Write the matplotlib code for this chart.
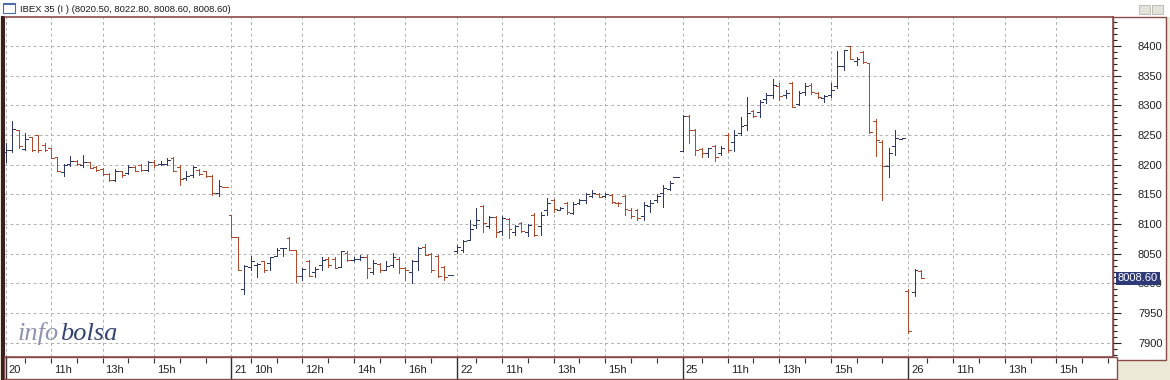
import matplotlib
matplotlib.use('Agg')
import matplotlib.pyplot as plt
import matplotlib.transforms as mtrans
from matplotlib.patches import Rectangle

plt.rcParams['font.family'] = ['Liberation Sans', 'DejaVu Sans']

# IBEX 35, 15 minute bars (open, high, low, close), days 20-21-22-25-26
day_labels = ['20', '21', '22', '25', '26']
bars_per_day = 35
tick_hours = [10, 11, 12, 13, 14, 15, 16, 17]
labelled_hours = [[11, 13, 15], [10, 12, 14, 16], [11, 13, 15], [11, 13, 15], [11, 13, 15]]

opens = [
    # 20
    8222, 8225, 8259, 8226, 8246, 8250, 8233, 8228, 8213, 8188, 8201, 8206, 8200, 8204, 8197, 8193, 8185, 8174,
    8189, 8186, 8197, 8200, 8191, 8205, 8201, 8201, 8211, 8197, 8177, 8183, 8191, 8189, 8181, 8153, 8163,
    # 21
    8115, 8079, 7990, 8028, 8031, 8037, 8034, 8046, 8059, 8076, 8057, 8012, 8038, 8020, 8031, 8041, 8041, 8028,
    8052, 8040, 8041, 8045, 8020, 8033, 8023, 8031, 8042, 8026, 8020, 8037, 8062, 8050, 8046, 8028, 8014,
    # 22
    8055, 8056, 8074, 8099, 8130, 8096, 8112, 8089, 8108, 8087, 8101, 8087, 8116, 8096, 8124, 8140, 8124, 8135,
    8119, 8136, 8140, 8148, 8150, 8148, 8149, 8136, 8148, 8124, 8124, 8113, 8130, 8141, 8152, 8159, 8179,
    # 25
    8224, 8282, 8258, 8226, 8219, 8232, 8219, 8250, 8239, 8253, 8267, 8290, 8289, 8310, 8318, 8333, 8318, 8337,
    8303, 8323, 8334, 8321, 8312, 8317, 8332, 8366, 8400, 8375, 8390, 8372, 8274, 8239, 8198, 8232, 8244,
    # 26
    7988, 7986, 8020.5,
]
highs = [
    8237, 8274, 8259, 8253, 8247, 8250, 8236, 8228, 8213, 8201, 8214, 8208, 8217, 8205, 8198, 8194, 8186, 8192,
    8190, 8200, 8198, 8202, 8207, 8208, 8206, 8211, 8213, 8200, 8189, 8198, 8192, 8190, 8183, 8174, 8163,
    8115, 8079, 8031, 8046, 8034, 8038, 8044, 8059, 8060, 8079, 8057, 8026, 8040, 8028, 8045, 8044, 8044, 8055,
    8054, 8044, 8048, 8048, 8039, 8035, 8037, 8051, 8045, 8028, 8039, 8062, 8067, 8051, 8048, 8030, 8015,
    8065, 8074, 8107, 8127, 8132, 8114, 8113, 8114, 8110, 8099, 8104, 8100, 8118, 8121, 8144, 8142, 8128, 8138,
    8138, 8142, 8153, 8157, 8152, 8152, 8151, 8138, 8149, 8127, 8125, 8138, 8140, 8151, 8166, 8173, 8180,
    8284, 8284, 8260, 8228, 8229, 8233, 8232, 8253, 8258, 8281, 8315, 8292, 8309, 8321, 8344, 8337, 8326, 8340,
    8325, 8338, 8337, 8323, 8318, 8338, 8391, 8394, 8400, 8381, 8391, 8372, 8277, 8241, 8229, 8259, 8245,
    7990, 8024, 8022.8,
]
lows = [
    8205, 8222, 8228, 8225, 8224, 8222, 8224, 8211, 8190, 8181, 8198, 8200, 8197, 8194, 8190, 8183, 8173, 8172,
    8180, 8185, 8189, 8190, 8189, 8197, 8200, 8200, 8189, 8166, 8174, 8180, 8183, 8179, 8149, 8147, 8162,
    8078, 8022, 7982, 8023, 8010, 8020, 8022, 8046, 8046, 8057, 8003, 8006, 8012, 8010, 8023, 8028, 8026, 8028,
    8037, 8037, 8040, 8009, 8016, 8020, 8023, 8028, 8017, 8006, 8000, 8023, 8048, 8020, 8010, 8006, 8014,
    8052, 8053, 8073, 8093, 8087, 8093, 8078, 8082, 8076, 8082, 8086, 8080, 8080, 8082, 8116, 8121, 8124, 8117,
    8117, 8134, 8135, 8145, 8145, 8146, 8136, 8130, 8116, 8110, 8107, 8107, 8121, 8138, 8128, 8158, 8179,
    8224, 8237, 8217, 8213, 8213, 8207, 8217, 8222, 8224, 8250, 8258, 8280, 8281, 8304, 8312, 8309, 8312, 8297,
    8301, 8318, 8320, 8312, 8306, 8315, 8329, 8359, 8378, 8368, 8372, 8254, 8214, 8140, 8179, 8217, 8244,
    7917, 7978, 8008.6,
]
closes = [
    8225, 8260, 8231, 8243, 8225, 8225, 8225, 8211, 8190, 8200, 8207, 8201, 8205, 8195, 8191, 8185, 8174, 8189,
    8183, 8197, 8190, 8191, 8205, 8200, 8202, 8208, 8190, 8176, 8181, 8197, 8185, 8181, 8152, 8164, 8162,
    8078, 8023, 8030, 8037, 8033, 8023, 8044, 8057, 8059, 8057, 8012, 8024, 8013, 8024, 8040, 8031, 8026, 8054,
    8039, 8042, 8044, 8026, 8034, 8023, 8030, 8045, 8026, 8022, 8037, 8059, 8048, 8022, 8012, 8010, 8015,
    8061, 8072, 8091, 8107, 8101, 8112, 8087, 8110, 8091, 8096, 8089, 8098, 8082, 8116, 8136, 8125, 8127, 8121,
    8134, 8141, 8151, 8153, 8146, 8150, 8138, 8135, 8125, 8114, 8110, 8132, 8136, 8148, 8160, 8170, 8180,
    8282, 8259, 8225, 8219, 8228, 8213, 8229, 8225, 8250, 8265, 8288, 8282, 8306, 8318, 8334, 8316, 8321, 8298,
    8321, 8333, 8323, 8314, 8316, 8326, 8366, 8394, 8378, 8379, 8374, 8256, 8241, 8198, 8220, 8245, 8245,
    7920, 8022, 8008.6,
]

UP = '#2d3868'
DOWN = '#b04a2c'
BORDER = '#8a4a4a'
GRID = '#b0b0b0'

W, H = 1170, 380
fig = plt.figure(figsize=(W / 100, H / 100), dpi=100, facecolor='#ece9d8')


def box(x0, y0, x1, y1):
    # pixel box, origin top-left -> figure fraction rect
    return [x0 / W, 1 - y1 / H, (x1 - x0) / W, (y1 - y0) / H]


def frame(x0, y0, x1, y1, fc='white', ec=BORDER, lw=1.0):
    fig.patches.append(Rectangle((x0 / W, 1 - y1 / H), (x1 - x0) / W, (y1 - y0) / H,
                                 transform=fig.transFigure, fc=fc, ec=ec, lw=lw, zorder=-2))


# window chrome
frame(0, 0, W, 17, ec='none')
frame(1113, 17, 1166, 360)
frame(4, 357, 1117, 379)
frame(3, 3, 15, 13, fc='white', ec='#4a6ea8', lw=0.8)
frame(3, 3, 15, 5, fc='#4a6ea8', ec='none')
frame(1139, 5, 1150, 14, fc='#e4e2da', ec='#b8b4a8', lw=0.6)
frame(1152, 5, 1163, 14, fc='#e4e2da', ec='#b8b4a8', lw=0.6)
fig.text(20 / W, 1 - 9 / H, 'IBEX 35 (I ) (8020.50, 8022.80, 8008.60, 8008.60)',
         fontsize=6.8, va='center', ha='left', color='#1a1a1a')
fig.add_artist(plt.Line2D([1.5 / W, 1.5 / W], [0, 1 - 17 / H], transform=fig.transFigure,
                          color='#3a2020', lw=2.2))

n = len(opens)
xs = list(range(n))
cols = [UP if c >= o else DOWN for o, c in zip(opens, closes)]
day_starts = [k * bars_per_day for k in range(len(day_labels))]

ax = fig.add_axes(box(4, 17, 1113, 357))
ax.set_zorder(1)
ax.set_xlim(-0.3, 171.8)
ax.set_ylim(7876, 8449)

# vertical grid: day starts and labelled hours
for d, hours in zip(day_starts, labelled_hours):
    ax.axvline(d, color=GRID, lw=0.7, ls=(0, (3, 3)), zorder=1)
    for h in hours:
        ax.axvline(d + 3 + 4 * (h - 10), color=GRID, lw=0.7, ls=(0, (3, 3)), zorder=1)
ax.set_yticks(range(7900, 8401, 50))
ax.set_yticks(range(7880, 8441, 10), minor=True)
ax.grid(axis='y', which='major', color=GRID, lw=0.7, ls=(0, (3, 3)), zorder=1)

# OHLC bars
lw_bar = 0.6
ax.vlines(xs, lows, highs, colors=cols, lw=lw_bar, zorder=3, antialiased=False)
ax.hlines(opens, [x - 0.45 for x in xs], xs, colors=cols, lw=lw_bar, zorder=3, antialiased=False)
ax.hlines(closes, xs, [x + 0.45 for x in xs], colors=cols, lw=lw_bar, zorder=3, antialiased=False)

ax.set_xticks([])
ax.yaxis.tick_right()
ax.tick_params(axis='y', which='major', direction='out', length=6, width=0.8, pad=12,
               labelsize=8, colors='#222222')
ax.tick_params(axis='y', which='minor', direction='out', length=3, width=0.8, colors='#222222')
for lab in ax.get_yticklabels():
    lab.set_horizontalalignment('left')
for side in ['top', 'right', 'bottom']:
    ax.spines[side].set_color(BORDER)
    ax.spines[side].set_linewidth(1.2)
ax.spines['left'].set_color('#3a2020')
ax.spines['left'].set_linewidth(1.5)

# last price marker
last = closes[-1]
tr = mtrans.offset_copy(mtrans.blended_transform_factory(ax.transAxes, ax.transData),
                        fig=fig, x=5, y=0, units='dots')
ax.text(1.0, last, f'{last:.2f}', transform=tr, ha='left', va='center', fontsize=8,
        color='white', zorder=10, clip_on=False,
        bbox=dict(boxstyle='square,pad=0.15', fc='#2e3a78', ec='none'))

# watermark
info = fig.text(18 / W, 1 - 340 / H, 'info', fontsize=19, family='Liberation Serif', style='italic',
                color='#8f93b0', va='baseline', ha='left', zorder=2)
fig.canvas.draw()
end = info.get_window_extent(fig.canvas.get_renderer()).x1
fig.text(end / W + 1 / W, 1 - 340 / H, 'bolsa', fontsize=19, family='Liberation Serif',
         style='italic', color='#34446e', va='baseline', ha='left', zorder=2)

# time axis strip
axb = fig.add_axes(box(4, 358, 1113, 379), sharex=ax)
axb.set_zorder(1)
axb.set_ylim(0, 1)
axb.axis('off')
lab_tr = mtrans.offset_copy(axb.transData, fig=fig, x=3, y=0, units='dots')
for d, day, hours in zip(day_starts, day_labels, labelled_hours):
    axb.axvline(d, color='#303030', lw=1.0)
    axb.text(d, 0.42, day, transform=lab_tr, fontsize=8, va='center', ha='left', color='#222222')
    for h in tick_hours:
        pos = d + 3 + 4 * (h - 10)
        axb.vlines(pos, 0.78, 1.0, color='#303030', lw=0.8)
        if h in hours:
            axb.text(pos, 0.42, f'{h}h', transform=lab_tr, fontsize=8, va='center', ha='left',
                     color='#222222')

fig.savefig('out.png', dpi=100, facecolor=fig.get_facecolor())
